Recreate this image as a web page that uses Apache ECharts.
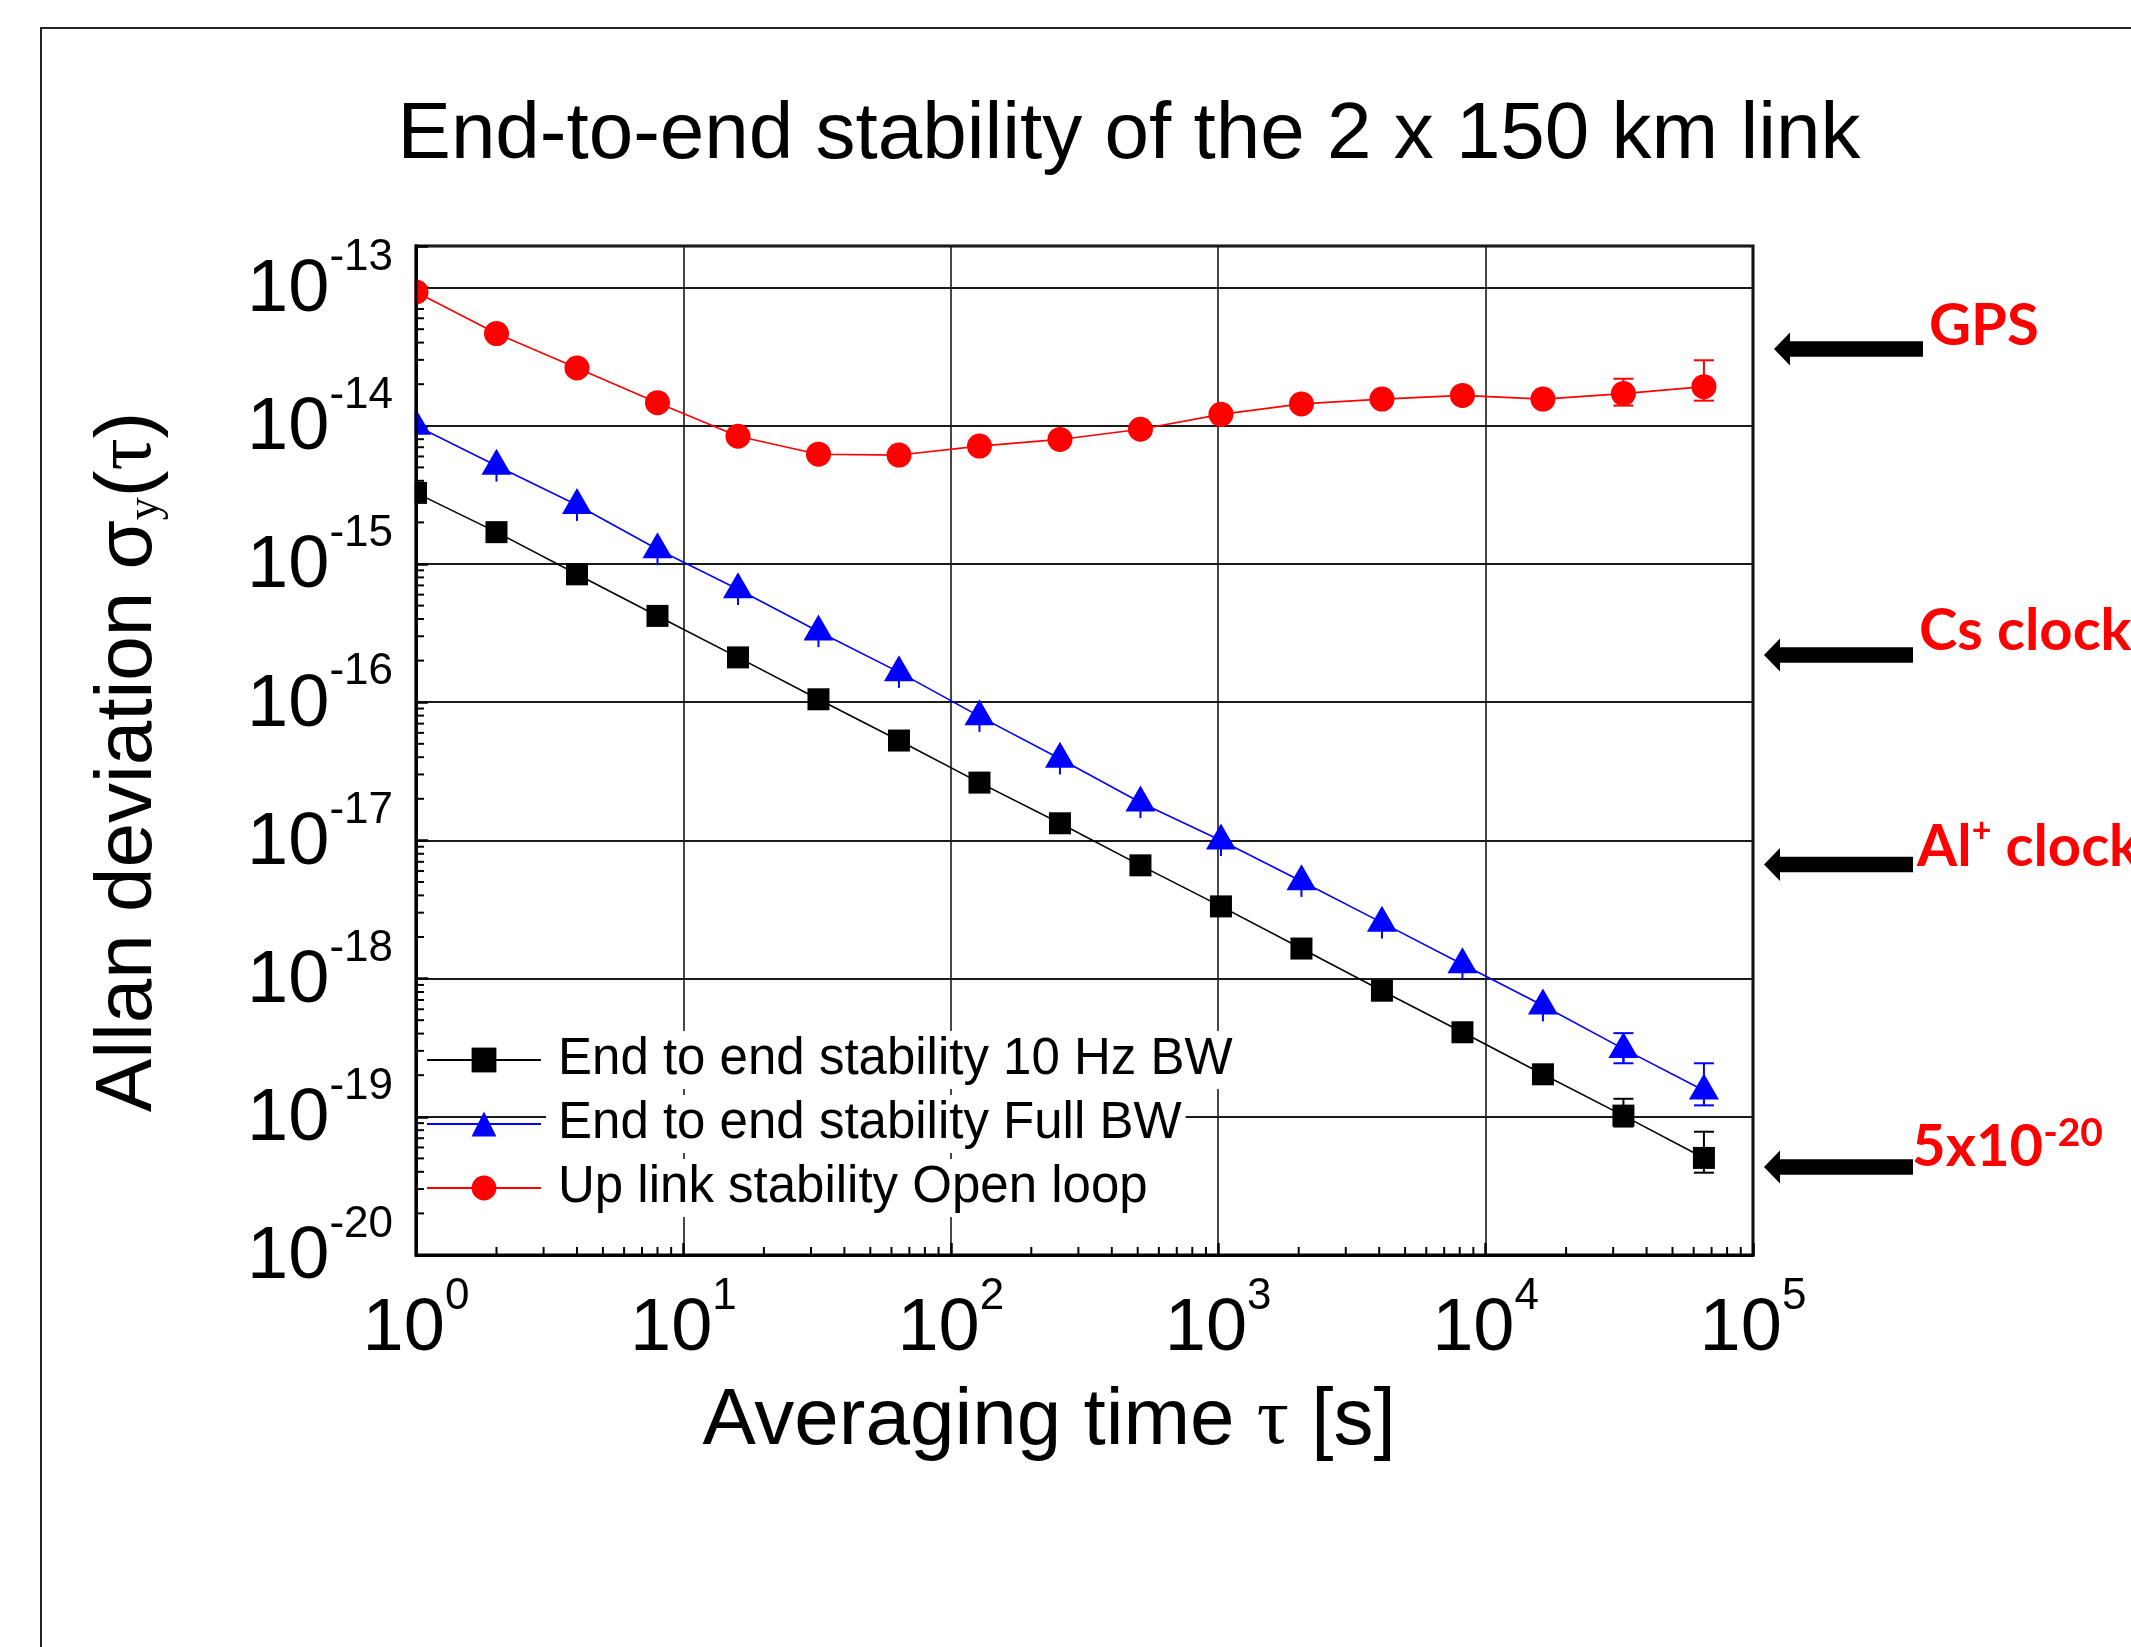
<!DOCTYPE html>
<html>
<head>
<meta charset="utf-8">
<title>End-to-end stability of the 2 x 150 km link</title>
<script src="https://cdn.jsdelivr.net/npm/echarts@6/dist/echarts.min.js"></script>
<style>
  html, body { margin: 0; padding: 0; background: #fff; }
  #chart { width: 2131px; height: 1647px; }
</style>
</head>
<body>
<div id="chart"></div>
<script>
// averaging time tau [s]
const taus = [1, 2, 4, 8, 16, 32, 64, 128, 256, 512, 1024, 2048, 4096, 8192, 16384, 32768, 65536];

// End to end stability 10 Hz BW
const black = [3.27e-15, 1.70e-15, 8.42e-16, 4.21e-16, 2.11e-16, 1.05e-16, 5.28e-17, 2.62e-17, 1.33e-17,
  6.6e-18, 3.33e-18, 1.65e-18, 8.17e-19, 4.09e-19, 2.03e-19, 1.02e-19, 5.04e-20];
// End to end stability Full BW
const blue = [1.0e-14, 5.14e-15, 2.67e-15, 1.28e-15, 6.56e-16, 3.25e-16, 1.65e-16, 7.9e-17, 3.9e-17,
  1.88e-17, 9.97e-18, 5.07e-18, 2.54e-18, 1.27e-18, 6.38e-19, 3.1e-19, 1.55e-19];
// Up link stability Open loop
const red = [9.3e-14, 4.65e-14, 2.62e-14, 1.47e-14, 8.4e-15, 6.23e-15, 6.14e-15, 7.13e-15, 7.97e-15,
  9.44e-15, 1.21e-14, 1.44e-14, 1.56e-14, 1.66e-14, 1.56e-14, 1.71e-14, 1.92e-14];

// lower ends of the short error bars under the triangles
const blueLow = [7.7e-15, 3.95e-15, 2.05e-15, 9.8e-16, 5.05e-16, 2.5e-16, 1.27e-16, 6.1e-17, 3.0e-17,
  1.45e-17, 7.7e-18, 3.9e-18, 1.95e-18, 9.8e-19, 4.9e-19, 2.44e-19, 1.21e-19];

// capped error bars [tau, low, high]
const blackErr = [[32768, 8.5e-20, 1.35e-19], [65536, 3.94e-20, 7.8e-20]];
const blueErr = [[32768, 2.44e-19, 4.03e-19], [65536, 1.21e-19, 2.44e-19]];
const redErr = [[32768, 1.4e-14, 2.19e-14], [65536, 1.52e-14, 2.98e-14]];

const names = ['End to end stability 10 Hz BW', 'End to end stability Full BW', 'Up link stability Open loop'];

const xMin = 1, xMax = 1e5, yMin = 1e-20, yMax = 2e-13;

// minor ticks at 2..9 of every decade
const xMinor = [];
for (let d = 1; d < xMax; d *= 10) for (let k = 2; k <= 9; k++) xMinor.push([d * k, yMin]);
const yMinor = [];
for (let e = -20; e <= -14; e++) for (let k = 2; k <= 9; k++) yMinor.push([xMin, k * Math.pow(10, e)]);

const sans = 'Liberation Sans';
const serif = 'Liberation Serif';

function powerLabel(v) {
  const e = Math.log10(v);
  const r = Math.round(e);
  if (Math.abs(e - r) > 1e-6) return '';
  return '{b|10}{s|' + r + '}';
}
// tall line for "10" so the exponent, pinned to the top, sits well above it
const powRich = {
  b: { fontSize: 74, lineHeight: 110, fontFamily: sans, color: '#000' },
  s: { fontSize: 44, lineHeight: 48, fontFamily: sans, color: '#000', verticalAlign: 'top' }
};

function lineSeries(name, vals, color, symbol, size, offset) {
  return {
    name: name, type: 'line',
    data: taus.map((t, i) => [t, vals[i]]),
    symbol: symbol, symbolSize: size, symbolOffset: offset || [0, 0],
    itemStyle: { color: color },
    lineStyle: { color: color, width: 1.6 },
    z: 3, clip: false, animation: false,
    emphasis: { disabled: true }
  };
}

function errorBars(rows, color, cap) {
  return {
    type: 'custom', data: rows, z: 2, silent: true, clip: false, animation: false,
    renderItem: function (params, api) {
      const x = api.value(0);
      const lo = api.coord([x, api.value(1)]);
      const hi = api.coord([x, api.value(2)]);
      const st = { stroke: color, lineWidth: 2 };
      const kids = [{ type: 'line', shape: { x1: lo[0], y1: lo[1], x2: hi[0], y2: hi[1] }, style: st }];
      if (cap) {
        kids.push({ type: 'line', shape: { x1: lo[0] - 10, y1: lo[1], x2: lo[0] + 10, y2: lo[1] }, style: st });
        kids.push({ type: 'line', shape: { x1: hi[0] - 10, y1: hi[1], x2: hi[0] + 10, y2: hi[1] }, style: st });
      }
      return { type: 'group', children: kids };
    }
  };
}

function minorTicks(points, dx, dy) {
  return {
    type: 'custom', data: points, z: 1, silent: true, clip: false, animation: false,
    renderItem: function (params, api) {
      const p = api.coord([api.value(0), api.value(1)]);
      return {
        type: 'line',
        shape: { x1: p[0], y1: p[1], x2: p[0] + dx, y2: p[1] + dy },
        style: { stroke: '#000', lineWidth: 2 }
      };
    }
  };
}

const chart = echarts.init(document.getElementById('chart'), null, { renderer: 'canvas' });

const option = {
  backgroundColor: '#fff',
  animation: false,
  grid: {
    left: 416, right: 378, top: 246, bottom: 392,
    show: true, borderColor: '#000', borderWidth: 3, backgroundColor: 'transparent',
    containLabel: false, outerBoundsMode: 'none'
  },
  legend: {
    orient: 'vertical', left: 426, top: 1031, padding: 0,
    itemWidth: 114, itemHeight: 31, itemGap: 6,
    data: names, selectedMode: false,
    textStyle: {
      fontFamily: sans, fontSize: 51, lineHeight: 58, color: '#000',
      backgroundColor: '#fff', padding: [0, 4, 0, 12]
    }
  },
  xAxis: {
    type: 'log', logBase: 10, min: xMin, max: xMax,
    axisLine: { show: true, onZero: false, lineStyle: { color: '#000', width: 3 } },
    axisTick: { show: true, inside: true, length: 12, lineStyle: { color: '#000', width: 2.5 } },
    splitLine: { show: true, lineStyle: { color: '#1a1a1a', width: 1.6 } },
    axisLabel: { formatter: powerLabel, margin: 20, rich: powRich, color: '#000' }
  },
  yAxis: {
    type: 'log', logBase: 10, min: yMin, max: yMax,
    axisLine: { show: true, onZero: false, lineStyle: { color: '#000', width: 3 } },
    axisTick: { show: true, inside: true, length: 12, lineStyle: { color: '#000', width: 2.5 } },
    splitLine: { show: true, lineStyle: { color: '#1a1a1a', width: 2.2 } },
    axisLabel: { formatter: powerLabel, margin: 23, padding: [6, 0, 0, 0], rich: powRich, color: '#000' }
  },
  series: [
    minorTicks(xMinor, 0, -8),
    minorTicks(yMinor, 8, 0),
    errorBars(taus.map((t, i) => [t, blueLow[i], blue[i]]), '#0000ff', false),
    errorBars(blackErr, '#000000', true),
    errorBars(blueErr, '#0000ff', true),
    errorBars(redErr, '#ff0000', true),
    lineSeries(names[2], red, '#ff0000', 'circle', 25),
    lineSeries(names[1], blue, '#0000ff', 'triangle', [30, 26], [0, -4]),
    lineSeries(names[0], black, '#000000', 'rect', 22)
  ]
};
chart.setOption(option);

// plot corners in pixels, for the cover that hides the marker halves left of the axis
const bl = chart.convertToPixel({ gridIndex: 0 }, [xMin, yMin]);
const tr = chart.convertToPixel({ gridIndex: 0 }, [xMax, yMax]);

// right side reference levels
const notes = [
  { text: '{m|GPS}', y: 349, tip: 1774, end: 1923, tx: 1929, ty: 326 },
  { text: '{m|Cs clock}', y: 655, tip: 1764, end: 1913, tx: 1919, ty: 631 },
  { text: '{m|Al}{p|+}{m| clock}', y: 864.5, tip: 1764, end: 1913, tx: 1917, ty: 847 },
  { text: '{m|5x10}{q|-20}', y: 1167, tip: 1764, end: 1913, tx: 1912, ty: 1147 }
];
const noteRich = {
  m: { fontFamily: 'Lato', fontWeight: 'bold', fontSize: 58, lineHeight: 66, fill: '#ff0000' },
  p: { fontFamily: 'Lato', fontWeight: 'bold', fontSize: 34, lineHeight: 36, fill: '#ff0000', verticalAlign: 'top' },
  q: { fontFamily: 'Lato', fontWeight: 'bold', fontSize: 39, lineHeight: 36, fill: '#ff0000', verticalAlign: 'top' }
};

const graphics = [
  {
    type: 'rect', z: 0, silent: true,
    shape: { x: 41, y: 28, width: 2200, height: 1700 },
    style: { fill: 'none', stroke: '#222', lineWidth: 2 }
  },
  {
    type: 'text', x: 1129, y: 136, z: 50, silent: true,
    style: {
      text: 'End-to-end stability of the 2 x 150 km link',
      fontFamily: sans, fontSize: 80, fill: '#000', align: 'center', verticalAlign: 'middle'
    }
  },
  {
    type: 'text', x: 1049, y: 1422, z: 50, silent: true,
    style: {
      text: '{a|Averaging time }{t|τ}{a| [s]}',
      rich: {
        a: { fontFamily: sans, fontSize: 80, fill: '#000' },
        t: { fontFamily: serif, fontSize: 80, fill: '#000' }
      },
      fill: '#000', align: 'center', verticalAlign: 'middle'
    }
  },
  {
    type: 'text', x: 129, y: 762, rotation: Math.PI / 2, z: 50, silent: true,
    style: {
      text: '{a|Allan deviation σ}{y|y}{a|(}{t|τ}{a|)}',
      rich: {
        a: { fontFamily: sans, fontSize: 80, lineHeight: 80, fill: '#000' },
        y: { fontFamily: serif, fontSize: 46, lineHeight: 46, fill: '#000', verticalAlign: 'bottom' },
        t: { fontFamily: serif, fontSize: 80, lineHeight: 80, fill: '#000' }
      },
      fill: '#000', align: 'center', verticalAlign: 'middle'
    }
  },
  {
    type: 'rect', z: 50, silent: true,
    shape: { x: bl[0] - 22, y: tr[1] - 2, width: 20.5, height: bl[1] - tr[1] + 4 },
    style: { fill: '#fff' }
  },
  {
    type: 'line', z: 51, silent: true,
    shape: { x1: bl[0], y1: tr[1] - 1.5, x2: bl[0], y2: bl[1] + 1.5 },
    style: { stroke: '#000', lineWidth: 3 }
  }
];

notes.forEach(function (n) {
  const back = n.tip + 16, hh = 16.5, st = 7.8;
  graphics.push({
    type: 'polygon', z: 50, silent: true,
    shape: {
      points: [[n.tip, n.y], [back, n.y - hh], [back, n.y - st], [n.end, n.y - st],
        [n.end, n.y + st], [back, n.y + st], [back, n.y + hh]]
    },
    style: { fill: '#000' }
  });
  graphics.push({
    type: 'text', x: n.tx, y: n.ty, z: 50, silent: true,
    style: { text: n.text, rich: noteRich, fill: '#ff0000', align: 'left', verticalAlign: 'middle' }
  });
});

chart.setOption({ graphic: graphics });
</script>
</body>
</html>
